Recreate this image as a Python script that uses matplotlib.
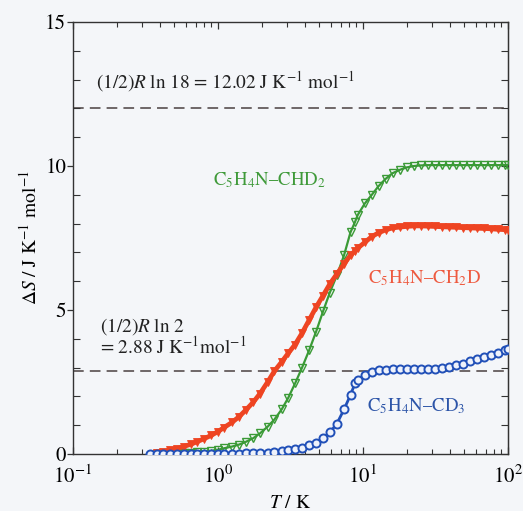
import matplotlib
matplotlib.use("Agg")
import matplotlib.pyplot as plt
from matplotlib.ticker import LogLocator, MultipleLocator, NullFormatter

plt.rcParams['font.family'] = ['STIXGeneral', 'DejaVu Serif']
plt.rcParams['mathtext.fontset'] = 'stix'

BG = "#f4f6f9"
FRAME = "#333333"
RED = "#ee4422"
GREEN = "#3a9a36"
BLUE = "#2150b8"

# temperatures (K)
T_K = [0.34, 0.38, 0.42, 0.47, 0.52, 0.58, 0.65, 0.72, 0.80, 0.90, 1.0, 1.1, 1.25,
       1.4, 1.55, 1.75, 1.95, 2.2, 2.45, 2.75, 3.05, 3.4, 3.8, 4.25, 4.75, 5.3,
       5.9, 6.6, 7.4, 8.2, 8.8, 9.2, 10.3, 11.5, 12.8, 14.3, 16, 18, 20, 22.5, 25,
       28, 31.5, 35, 39, 44, 49, 55, 61, 68, 76, 85, 95, 100]

# entropy change (J K^-1 mol^-1), red and green series start at T_K[1]
S_CH2D = [0.05, 0.08, 0.13, 0.19, 0.26, 0.34, 0.43, 0.53, 0.65, 0.78, 0.92, 1.1,
          1.3, 1.52, 1.8, 2.1, 2.5, 2.88, 3.2, 3.5, 3.8, 4.2, 4.65, 5.1, 5.5,
          5.9, 6.25, 6.6, 6.9, 7.05, 7.15, 7.35, 7.55, 7.68, 7.78, 7.85, 7.88,
          7.9, 7.92, 7.92, 7.91, 7.9, 7.89, 7.88, 7.87, 7.86, 7.85, 7.84, 7.83,
          7.82, 7.8, 7.79, 7.78]
S_CHD2 = [0.0, 0.01, 0.01, 0.02, 0.03, 0.04, 0.06, 0.08, 0.11, 0.15, 0.2, 0.26,
          0.33, 0.42, 0.55, 0.72, 0.95, 1.2, 1.55, 1.95, 2.45, 3.0, 3.6, 4.25,
          4.95, 5.6, 6.2, 6.9, 7.7, 8.05, 8.3, 8.7, 9.0, 9.3, 9.55, 9.75, 9.87,
          9.95, 10.0, 10.02, 10.03, 10.03, 10.03, 10.03, 10.03, 10.03, 10.03,
          10.03, 10.03, 10.03, 10.03, 10.03, 10.03]
S_CD3 = [0.0, 0.0, 0.0, 0.0, 0.0, 0.0, 0.0, 0.0, 0.0, 0.0, 0.0, 0.01, 0.01, 0.01,
         0.02, 0.02, 0.03, 0.05, 0.07, 0.1, 0.13, 0.17, 0.22, 0.3, 0.4, 0.55,
         0.75, 1.05, 1.55, 2.05, 2.45, 2.58, 2.76, 2.85, 2.9, 2.93, 2.95, 2.95,
         2.95, 2.95, 2.95, 2.95, 2.95, 2.98, 3.02, 3.08, 3.14, 3.22, 3.29, 3.36,
         3.44, 3.52, 3.61, 3.65]

LIMIT_LN18 = 12.02
LIMIT_LN2 = 2.88

fig = plt.figure(figsize=(5.23, 5.11), dpi=100)
fig.patch.set_facecolor(BG)
ax = fig.add_axes([0.1396, 0.1115, 0.8317, 0.8455])
ax.set_facecolor(BG)

ax.axhline(LIMIT_LN18, color="#4a4040", lw=1.1, dashes=(7, 4), zorder=1)
ax.axhline(LIMIT_LN2, color="#4a4040", lw=1.1, dashes=(7, 4), zorder=1)

# dense measured points: a line of the same colour under the markers closes the gaps
ax.plot(T_K[1:], S_CHD2, color=GREEN, lw=1.6, marker='v', ms=6.4, mfc='none', mec=GREEN,
        mew=1.0, zorder=3)
ax.plot(T_K[1:], S_CH2D, color=RED, lw=3.4, marker='v', ms=6.4, mfc=RED, mec=RED,
        mew=0.6, zorder=4)
ax.plot(T_K, S_CD3, color=BLUE, lw=2.0, marker='o', ms=5.8, mfc='#eef2fb', mec=BLUE,
        mew=1.4, zorder=5)

ax.set_xscale('log')
ax.set_xlim(0.1, 100)
ax.set_ylim(0, 15)
ax.yaxis.set_major_locator(MultipleLocator(5))
ax.yaxis.set_minor_locator(MultipleLocator(1))
ax.xaxis.set_minor_locator(LogLocator(base=10, subs=range(2, 10)))
ax.xaxis.set_minor_formatter(NullFormatter())

for s in ax.spines.values():
    s.set_color(FRAME)
    s.set_linewidth(1.0)

ax.tick_params(axis='x', which='major', direction='in', length=5, width=0.9, labelsize=15,
               pad=8, color=FRAME, top=True)
ax.tick_params(axis='x', which='minor', direction='in', length=3.5, width=0.8, color=FRAME, top=True)
ax.tick_params(axis='y', which='major', direction='out', length=4.5, width=0.9, labelsize=15,
               pad=0.5, color=FRAME)
ax.tick_params(axis='y', which='minor', direction='in', length=5, width=0.8, color=FRAME)

sec = ax.secondary_yaxis('right')
sec.yaxis.set_major_locator(MultipleLocator(1))
sec.tick_params(direction='in', length=5, width=0.8, labelright=False, color=FRAME)
sec.spines['right'].set_color(FRAME)

ax.set_xlabel(r'$T$ / K', fontsize=14, labelpad=5)
ax.set_ylabel(r'$\Delta S$ / J K$^{-1}$ mol$^{-1}$', fontsize=14, labelpad=3)

ax.text(0.144, 12.7, r'(1/2)$R$ ln 18 = 12.02 J K$^{-1}$ mol$^{-1}$', fontsize=13.9,
        color='#222222', va='baseline')
ax.text(0.153, 4.25, r'(1/2)$R$ ln 2', fontsize=13.9, color='#222222', va='baseline')
ax.text(0.153, 3.5, r'= 2.88 J K$^{-1}$mol$^{-1}$', fontsize=13.9, color='#222222', va='baseline')

ax.text(0.92, 9.34, 'C$_5$H$_4$N\u2013CHD$_2$', fontsize=13.5, color="#3f9a3a", va='baseline')
ax.text(10.8, 5.94, 'C$_5$H$_4$N\u2013CH$_2$D', fontsize=13.5, color="#ee5a40", va='baseline')
ax.text(10.7, 1.5, 'C$_5$H$_4$N\u2013CD$_3$', fontsize=13.5, color="#2d55a8", va='baseline')

fig.savefig('out.png', dpi=100, facecolor=BG)
